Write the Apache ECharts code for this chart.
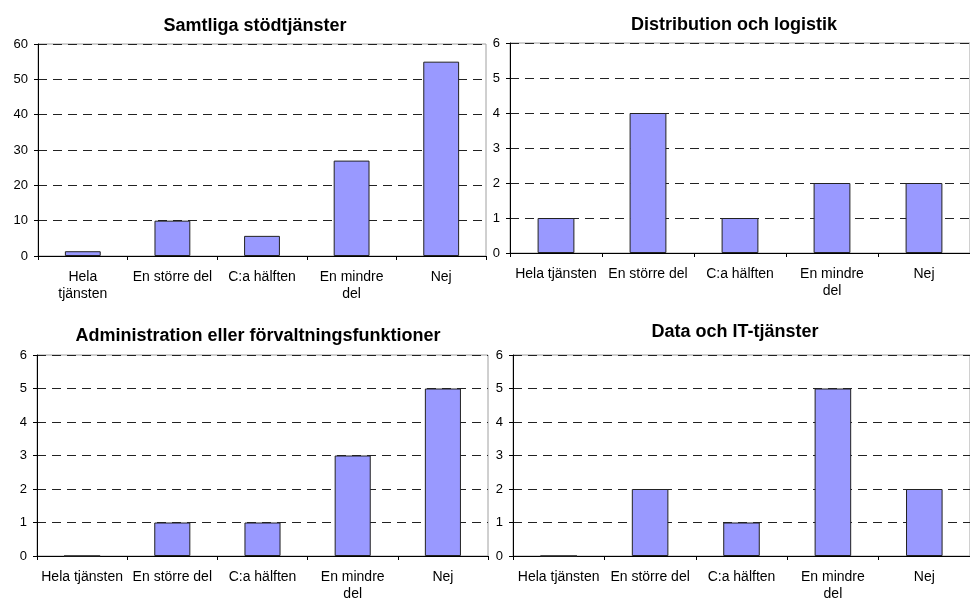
<!DOCTYPE html>
<html>
<head>
<meta charset="utf-8">
<script src="https://cdn.jsdelivr.net/npm/echarts@6/dist/echarts.min.js"></script>
<style>
html,body{margin:0;padding:0;background:#fff;}
#c{width:970px;height:603px;}
</style>
</head>
<body>
<div id="c"></div>
<script>
const categories = ["Hela tjänsten", "En större del", "C:a hälften", "En mindre del", "Nej"];
const titles = ["Samtliga stödtjänster", "Distribution och logistik", "Administration eller förvaltningsfunktioner", "Data och IT-tjänster"];
const samtliga = [1.35, 10, 5.7, 27, 55];
const distribution = [1, 4, 1, 2, 2];
const administration = [0, 1, 1, 3, 5];
const dataIT = [0, 2, 1, 5, 2];
const yMax = [60, 6, 6, 6];
const yInterval = [10, 1, 1, 1];

const seriesData = [samtliga, distribution, administration, dataIT];
const grids = [
  {left: 38, top: 44, width: 448, height: 212},
  {left: 510, top: 43, width: 464, height: 210},
  {left: 37, top: 355, width: 451, height: 204},
  {left: 513, top: 355, width: 464, height: 202}
];
const titlePos = [
  {x: 250, y: 23}, {x: 729, y: 22}, {x: 253, y: 333}, {x: 730, y: 329}
];
const font = "'Liberation Sans', Arial, sans-serif";

const option = {
  animation: false,
  backgroundColor: '#fff',
  title: titles.map((t, i) => ({
    text: t, left: titlePos[i].x, top: titlePos[i].y - 11, textAlign: 'center',
    textStyle: {fontFamily: font, fontSize: 18, fontWeight: 'bold', color: '#000'}
  })),
  grid: grids.map(g => Object.assign({show: true, borderColor: '#a0a0a0', borderWidth: 1, backgroundColor: 'transparent'}, g)),
  xAxis: grids.map((g, i) => ({
    type: 'category', gridIndex: i, data: categories,
    axisLine: {lineStyle: {color: '#000', width: 1}},
    axisTick: {show: true, length: 4, lineStyle: {color: '#000'}},
    axisLabel: {
      color: '#000', fontFamily: font, fontSize: 14, margin: 13, lineHeight: 17, interval: 0,
      formatter: v => {
        let s = v.replace('En mindre del', 'En mindre\ndel');
        if (i === 0) s = s.replace('Hela tjänsten', 'Hela\ntjänsten');
        return s;
      }
    },
    splitLine: {show: false}
  })),
  yAxis: grids.map((g, i) => ({
    type: 'value', gridIndex: i, min: 0, max: yMax[i], interval: yInterval[i],
    axisLine: {show: true, lineStyle: {color: '#000', width: 1}},
    axisTick: {show: true, length: 4, lineStyle: {color: '#000'}},
    axisLabel: {color: '#000', fontFamily: font, fontSize: 13, margin: 10},
    splitLine: {show: true, lineStyle: {color: '#222', width: 1, type: [9, 6]}}
  })),
  series: seriesData.map((d, i) => ({
    type: 'bar', xAxisIndex: i, yAxisIndex: i, data: d, barWidth: '40%',
    itemStyle: {color: '#9999ff', borderColor: '#222', borderWidth: 1}
  }))
};

const chart = echarts.init(document.getElementById('c'), null, {renderer: 'canvas'});
chart.setOption(option);
</script>
</body>
</html>
